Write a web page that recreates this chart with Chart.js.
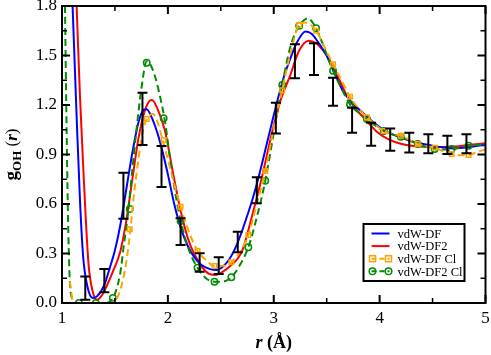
<!DOCTYPE html>
<html>
<head>
<meta charset="utf-8">
<script src="https://cdn.jsdelivr.net/npm/chart.js@4/dist/chart.umd.min.js"></script>
<style>
  html, body { margin: 0; padding: 0; background: #fff; }
  #wrap { width: 491px; height: 355px; }
</style>
</head>
<body>
<div id="wrap"><canvas id="gr" width="491" height="355"></canvas></div>
<script>
"use strict";

// tick positions
const xMajor = [1, 2, 3, 4, 5];
const xMinor = [1.5, 2.5, 3.5, 4.5];
const yMajor = [0, 0.3, 0.6, 0.9, 1.2, 1.5, 1.8];
const yMinor = [0.15, 0.45, 0.75, 1.05, 1.35, 1.65];

// vdW-DF (blue)
const rDF = [1.10, 1.14, 1.17, 1.20, 1.24, 1.29, 1.33, 1.40, 1.45, 1.50, 1.55, 1.59, 1.63, 1.67, 1.72, 1.77, 1.80, 1.85, 1.92, 2.00, 2.06, 2.12, 2.20, 2.30, 2.40, 2.46, 2.55, 2.62, 2.68, 2.75, 2.80, 2.86, 2.94, 3.02, 3.10, 3.15, 3.22, 3.30, 3.36, 3.42, 3.49, 3.57, 3.65, 3.73, 3.83, 3.95, 4.06, 4.17, 4.28, 4.40, 4.50, 4.60, 4.71, 4.82, 4.90, 5.00];
const gDF = [1.80, 1.10, 0.62, 0.28, 0.10, 0.03, 0.04, 0.11, 0.21, 0.32, 0.47, 0.62, 0.78, 0.93, 1.09, 1.17, 1.175, 1.12, 0.99, 0.78, 0.60, 0.46, 0.33, 0.24, 0.205, 0.20, 0.24, 0.31, 0.40, 0.53, 0.63, 0.77, 0.98, 1.19, 1.38, 1.47, 1.58, 1.645, 1.63, 1.58, 1.51, 1.40, 1.29, 1.22, 1.16, 1.09, 1.04, 1.01, 0.985, 0.965, 0.953, 0.943, 0.937, 0.942, 0.95, 0.958];

// vdW-DF2 (red)
const rDF2 = [1.138, 1.17, 1.20, 1.25, 1.29, 1.33, 1.37, 1.42, 1.48, 1.55, 1.60, 1.64, 1.68, 1.72, 1.77, 1.82, 1.85, 1.90, 1.97, 2.06, 2.12, 2.20, 2.30, 2.38, 2.45, 2.52, 2.60, 2.66, 2.71, 2.80, 2.88, 2.99, 3.07, 3.15, 3.24, 3.33, 3.40, 3.46, 3.52, 3.60, 3.68, 3.77, 3.87, 3.97, 4.09, 4.20, 4.32, 4.45, 4.60, 4.75, 4.88, 5.00];
const gDF2 = [1.80, 1.25, 0.83, 0.24, 0.07, 0.02, 0.04, 0.10, 0.19, 0.31, 0.47, 0.64, 0.82, 0.99, 1.14, 1.22, 1.23, 1.18, 1.05, 0.75, 0.56, 0.37, 0.24, 0.18, 0.17, 0.19, 0.23, 0.27, 0.33, 0.54, 0.74, 1.05, 1.24, 1.37, 1.53, 1.59, 1.575, 1.535, 1.48, 1.38, 1.27, 1.18, 1.11, 1.04, 0.99, 0.965, 0.952, 0.947, 0.945, 0.95, 0.96, 0.968];

// vdW-DF Cl (orange dashed), its steep left wall hides under the green one
const rDFCl = [1.075, 1.10, 1.13, 1.45, 1.51, 1.56, 1.61, 1.646, 1.68, 1.72, 1.76, 1.80, 1.86, 1.90, 1.95, 2.00, 2.05, 2.12, 2.20, 2.28, 2.36, 2.44, 2.52, 2.60, 2.68, 2.76, 2.84, 2.92, 3.00, 3.08, 3.16, 3.24, 3.30, 3.40, 3.48, 3.56, 3.64, 3.72, 3.80, 3.88, 3.96, 4.04, 4.12, 4.20, 4.28, 4.36, 4.44, 4.52, 4.60, 4.68, 4.76, 4.84, 4.92, 5.00];
const gDFCl = [0.13, 0.02, 0.0, 0.0, 0.02, 0.10, 0.26, 0.447, 0.66, 0.86, 1.03, 1.115, 1.145, 1.10, 0.99, 0.87, 0.745, 0.584, 0.43, 0.317, 0.26, 0.224, 0.225, 0.247, 0.31, 0.412, 0.60, 0.80, 1.06, 1.29, 1.52, 1.685, 1.70, 1.65, 1.55, 1.447, 1.35, 1.25, 1.18, 1.125, 1.08, 1.042, 1.025, 1.014, 0.99, 0.964, 0.95, 0.941, 0.92, 0.903, 0.895, 0.897, 0.915, 0.93];

// vdW-DF2 Cl (green dashed)
const rDF2Cl = [1.028, 1.044, 1.06, 1.075, 1.10, 1.13, 1.40, 1.47, 1.55, 1.58, 1.624, 1.66, 1.70, 1.75, 1.80, 1.83, 1.88, 1.93, 1.97, 2.03, 2.08, 2.12, 2.20, 2.28, 2.36, 2.44, 2.52, 2.60, 2.68, 2.76, 2.84, 2.92, 3.00, 3.08, 3.16, 3.24, 3.32, 3.40, 3.48, 3.56, 3.64, 3.72, 3.80, 3.88, 3.96, 4.04, 4.12, 4.20, 4.28, 4.36, 4.44, 4.52, 4.60, 4.68, 4.76, 4.84, 4.92, 5.00];
const gDF2Cl = [1.80, 1.03, 0.42, 0.12, 0.02, 0.0, 0.0, 0.02, 0.18, 0.33, 0.545, 0.78, 1.03, 1.30, 1.465, 1.45, 1.37, 1.24, 1.11, 0.83, 0.63, 0.50, 0.32, 0.214, 0.15, 0.129, 0.13, 0.156, 0.23, 0.338, 0.52, 0.741, 1.03, 1.321, 1.56, 1.68, 1.725, 1.665, 1.54, 1.408, 1.30, 1.204, 1.155, 1.115, 1.075, 1.042, 1.022, 1.008, 0.985, 0.964, 0.945, 0.933, 0.93, 0.933, 0.942, 0.953, 0.958, 0.96];

// symbols on the two Cl curves
const markR = [1.16, 1.32, 1.48, 1.64, 1.80, 1.96, 2.12, 2.28, 2.44, 2.60, 2.76, 2.92, 3.08, 3.24, 3.40, 3.56, 3.72, 3.88, 4.04, 4.20, 4.36, 4.52, 4.68, 4.84];
const markDFCl = [null, null, null, 0.447, 1.115, 0.988, 0.584, 0.317, 0.224, 0.247, 0.412, 0.80, 1.29, 1.685, 1.65, 1.447, 1.25, 1.125, 1.042, 1.014, 0.964, 0.941, 0.903, 0.897];
const markDF2Cl = [0.0, 0.0, 0.03, 0.57, 1.456, 1.12, 0.497, 0.214, 0.129, 0.156, 0.338, 0.741, 1.321, 1.68, 1.665, 1.408, 1.204, 1.115, 1.042, 1.008, 0.964, 0.933, 0.933, 0.953];

// experiment, error bars
const errR = [1.22, 1.40, 1.58, 1.76, 1.94, 2.12, 2.30, 2.48, 2.66, 2.84, 3.02, 3.20, 3.38, 3.56, 3.74, 3.92, 4.10, 4.28, 4.46, 4.64, 4.82];
const errLo = [0.02, 0.065, 0.51, 0.958, 0.703, 0.352, 0.19, 0.176, 0.307, 0.604, 1.028, 1.362, 1.382, 1.196, 1.032, 0.953, 0.923, 0.912, 0.907, 0.903, 0.907];
const errHi = [0.16, 0.206, 0.79, 1.275, 0.951, 0.513, 0.301, 0.277, 0.432, 0.762, 1.214, 1.568, 1.574, 1.365, 1.184, 1.093, 1.057, 1.032, 1.022, 1.014, 1.022];

const BLUE = '#0000ff';
const RED = '#ff0000';
const ORANGE = '#ffa500';
const GREEN = '#008c00';
const SERIF = '"Liberation Serif", "Times New Roman", serif';

const pts = (xs, ys) => xs.map((x, i) => ({ x: x, y: ys[i] }));

const legendItems = [
  { label: 'vdW-DF', color: BLUE, dash: [], mark: null },
  { label: 'vdW-DF2', color: RED, dash: [], mark: null },
  { label: 'vdW-DF Cl', color: ORANGE, dash: [5, 3], mark: 'rect' },
  { label: 'vdW-DF2 Cl', color: GREEN, dash: [5, 3], mark: 'circle' }
];

function drawMark(ctx, kind, x, y, color) {
  ctx.save();
  ctx.setLineDash([]);
  ctx.strokeStyle = color;
  ctx.lineWidth = 1.5;
  ctx.fillStyle = '#fff';
  ctx.beginPath();
  if (kind === 'circle') {
    ctx.arc(x, y, 3.3, 0, Math.PI * 2);
  } else {
    ctx.rect(x - 3, y - 3, 6, 6);
  }
  ctx.stroke();
  ctx.restore();
}

const decorations = {
  id: 'decorations',
  afterDatasetsDraw(chart) {
    const ctx = chart.ctx;
    const xs = chart.scales.x;
    const ys = chart.scales.y;
    const a = chart.chartArea;

    // error bars
    ctx.save();
    ctx.strokeStyle = '#000';
    ctx.lineWidth = 2;
    errR.forEach((r, i) => {
      const px = xs.getPixelForValue(r);
      const p1 = ys.getPixelForValue(errLo[i]);
      const p2 = ys.getPixelForValue(errHi[i]);
      ctx.beginPath();
      ctx.moveTo(px, p1); ctx.lineTo(px, p2);
      ctx.moveTo(px - 5, p1); ctx.lineTo(px + 5, p1);
      ctx.moveTo(px - 5, p2); ctx.lineTo(px + 5, p2);
      ctx.stroke();
    });
    ctx.restore();

    // frame and inward ticks
    ctx.save();
    ctx.strokeStyle = '#000';
    ctx.lineWidth = 2;
    ctx.strokeRect(a.left, a.top, a.right - a.left, a.bottom - a.top);
    const tick = (vals, len, w) => {
      ctx.lineWidth = w;
      ctx.beginPath();
      vals.forEach(v => {
        const px = xs.getPixelForValue(v);
        ctx.moveTo(px, a.bottom); ctx.lineTo(px, a.bottom - len);
        ctx.moveTo(px, a.top); ctx.lineTo(px, a.top + len);
      });
      ctx.stroke();
    };
    const tickY = (vals, len, w) => {
      ctx.lineWidth = w;
      ctx.beginPath();
      vals.forEach(v => {
        const py = ys.getPixelForValue(v);
        ctx.moveTo(a.left, py); ctx.lineTo(a.left + len, py);
        ctx.moveTo(a.right, py); ctx.lineTo(a.right - len, py);
      });
      ctx.stroke();
    };
    tick(xMajor, 8, 2);
    tick(xMinor, 5, 1.5);
    tickY(yMajor, 8, 2);
    tickY(yMinor, 5, 1.5);
    ctx.restore();
  },
  afterDraw(chart) {
    const ctx = chart.ctx;
    const a = chart.chartArea;

    // legend
    const bx = a.right - 122, by = a.top + 218, bw = 101, bh = 57;
    ctx.save();
    ctx.fillStyle = '#fff';
    ctx.fillRect(bx, by, bw, bh);
    ctx.strokeStyle = '#000';
    ctx.lineWidth = 2;
    ctx.strokeRect(bx, by, bw, bh);
    ctx.font = '12.5px ' + SERIF;
    ctx.textBaseline = 'middle';
    legendItems.forEach((it, i) => {
      const ly = by + 9.5 + i * 12.6;
      ctx.strokeStyle = it.color;
      ctx.lineWidth = 2;
      ctx.setLineDash(it.dash);
      ctx.beginPath();
      ctx.moveTo(bx + 8, ly); ctx.lineTo(bx + 26, ly);
      ctx.stroke();
      ctx.setLineDash([]);
      if (it.mark) {
        drawMark(ctx, it.mark, bx + 9, ly, it.color);
        drawMark(ctx, it.mark, bx + 25, ly, it.color);
      }
      ctx.fillStyle = '#000';
      ctx.fillText(it.label, bx + 34, ly + 1);
    });
    ctx.restore();

    // axis titles
    ctx.save();
    ctx.fillStyle = '#000';
    ctx.textBaseline = 'alphabetic';
    // x: r (Å)
    const xt1 = 'r', xt2 = ' (Å)';
    ctx.font = 'bold italic 18px ' + SERIF;
    const w1 = ctx.measureText(xt1).width;
    ctx.font = 'bold 18px ' + SERIF;
    const w2 = ctx.measureText(xt2).width;
    let sx = (a.left + a.right) / 2 - (w1 + w2) / 2;
    ctx.font = 'bold italic 18px ' + SERIF;
    ctx.fillText(xt1, sx, 348);
    ctx.font = 'bold 18px ' + SERIF;
    ctx.fillText(xt2, sx + w1, 348);

    // y: g_OH (r)
    ctx.translate(17, (a.top + a.bottom) / 2);
    ctx.rotate(-Math.PI / 2);
    const parts = [
      { t: 'g', f: 'bold 19px ' + SERIF, dy: 0 },
      { t: 'OH', f: 'bold 13px ' + SERIF, dy: 4 },
      { t: ' (', f: '17px ' + SERIF, dy: 0 },
      { t: 'r', f: 'bold italic 17px ' + SERIF, dy: 0 },
      { t: ')', f: '17px ' + SERIF, dy: 0 }
    ];
    let total = 0;
    parts.forEach(p => { ctx.font = p.f; p.w = ctx.measureText(p.t).width; total += p.w; });
    let cx = -total / 2;
    parts.forEach(p => {
      ctx.font = p.f;
      ctx.fillText(p.t, cx, p.dy);
      cx += p.w;
    });
    ctx.restore();
  }
};

const lineSet = (label, xs, ys, color, dash) => ({
  label: label,
  data: pts(xs, ys),
  showLine: true,
  borderColor: color,
  borderWidth: 2,
  borderDash: dash,
  pointRadius: 0,
  cubicInterpolationMode: 'monotone',
  fill: false
});

const markSet = (label, xs, ys, color, style) => ({
  label: label,
  data: pts(xs, ys),
  showLine: false,
  pointStyle: style,
  pointRadius: 3.2,
  borderColor: color,
  backgroundColor: 'rgba(255,255,255,0)',
  pointBorderWidth: 1.5
});

const ctx = document.getElementById('gr').getContext('2d');
const gofr = new Chart(ctx, {
  type: 'scatter',
  data: {
    datasets: [
      lineSet('vdW-DF Cl', rDFCl, gDFCl, ORANGE, [7, 4]),
      markSet('vdW-DF Cl marks', markR, markDFCl, ORANGE, 'rect'),
      lineSet('vdW-DF2 Cl', rDF2Cl, gDF2Cl, GREEN, [7, 4]),
      markSet('vdW-DF2 Cl marks', markR, markDF2Cl, GREEN, 'circle'),
      lineSet('vdW-DF', rDF, gDF, BLUE, []),
      lineSet('vdW-DF2', rDF2, gDF2, RED, [])
    ]
  },
  options: {
    responsive: false,
    animation: false,
    devicePixelRatio: 1,
    layout: { padding: { top: 6, right: 4, left: 0, bottom: 0 } },
    plugins: { legend: { display: false }, tooltip: { enabled: false } },
    scales: {
      x: {
        type: 'linear',
        min: 1, max: 5,
        afterFit: s => { s.height = 52; s.paddingLeft = 0; s.paddingRight = 0; },
        afterBuildTicks: s => { s.ticks = xMajor.map(v => ({ value: v })); },
        ticks: { color: '#000', font: { family: SERIF, size: 17 }, padding: 5, maxRotation: 0,
          callback: v => String(v) },
        grid: { display: false, drawTicks: false },
        border: { display: false }
      },
      y: {
        min: 0, max: 1.8,
        afterFit: s => { s.width = 62; s.paddingTop = 0; s.paddingBottom = 0; },
        afterBuildTicks: s => { s.ticks = yMajor.map(v => ({ value: v })); },
        ticks: { color: '#000', font: { family: SERIF, size: 17 }, padding: 5,
          callback: v => v.toFixed(1) },
        grid: { display: false, drawTicks: false },
        border: { display: false }
      }
    }
  },
  plugins: [decorations]
});
</script>
</body>
</html>
